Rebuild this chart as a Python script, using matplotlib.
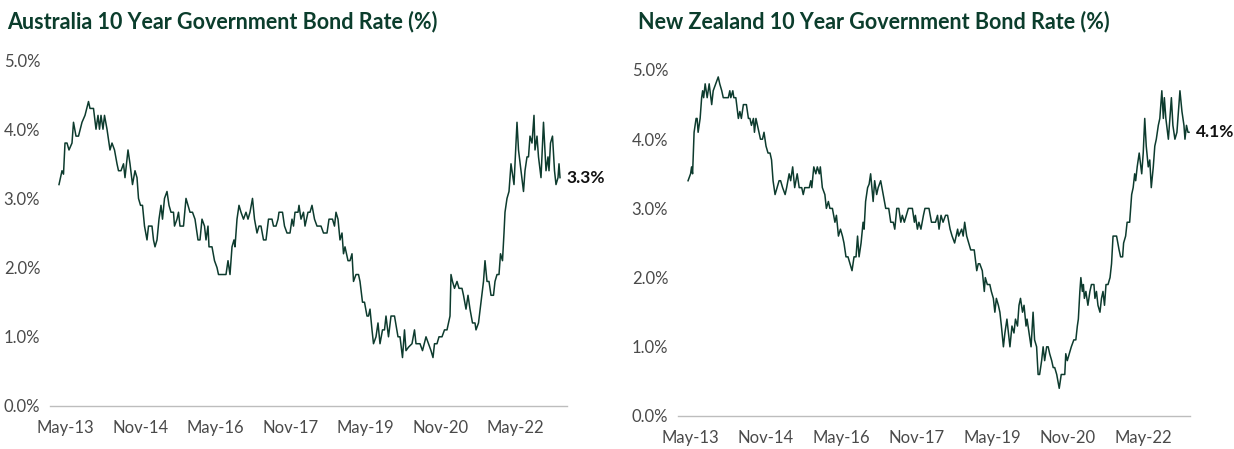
import matplotlib
matplotlib.use("Agg")
import matplotlib.pyplot as plt

# time as decimal years, rates in %
au_t = [2013.21, 2013.27, 2013.30, 2013.33, 2013.37, 2013.41, 2013.47, 2013.50, 2013.55, 2013.60,
        2013.67, 2013.73, 2013.80, 2013.83, 2013.90, 2013.95, 2013.99, 2014.02, 2014.05, 2014.09,
        2014.12, 2014.17, 2014.23, 2014.27, 2014.32, 2014.37, 2014.40, 2014.45, 2014.50, 2014.53,
        2014.59, 2014.63, 2014.68, 2014.73, 2014.77, 2014.80, 2014.84, 2014.88, 2014.92, 2014.97,
        2015.00, 2015.07, 2015.10, 2015.13, 2015.17, 2015.21, 2015.25, 2015.28, 2015.32, 2015.37,
        2015.41, 2015.45, 2015.50, 2015.52, 2015.57, 2015.60, 2015.63, 2015.70, 2015.75, 2015.79,
        2015.83, 2015.88, 2015.93, 2015.99, 2016.03, 2016.07, 2016.12, 2016.15, 2016.19, 2016.21,
        2016.27, 2016.32, 2016.37, 2016.40, 2016.55, 2016.59, 2016.63, 2016.67, 2016.71, 2016.73,
        2016.77, 2016.81, 2016.85, 2016.90, 2016.95, 2016.99, 2017.03, 2017.08, 2017.12, 2017.17,
        2017.21, 2017.25, 2017.30, 2017.35, 2017.40, 2017.47, 2017.50, 2017.55, 2017.59, 2017.61,
        2017.68, 2017.72, 2017.77, 2017.83, 2017.87, 2017.90, 2017.93, 2017.99, 2018.01, 2018.05,
        2018.10, 2018.13, 2018.19, 2018.23, 2018.27, 2018.32, 2018.37, 2018.45, 2018.50, 2018.57,
        2018.61, 2018.68, 2018.72, 2018.75, 2018.79, 2018.83, 2018.87, 2018.90, 2018.93, 2018.99,
        2019.03, 2019.07, 2019.10, 2019.15, 2019.20, 2019.23, 2019.28, 2019.32, 2019.37, 2019.40,
        2019.43, 2019.47, 2019.50, 2019.55, 2019.59, 2019.63, 2019.68, 2019.72, 2019.75, 2019.80,
        2019.85, 2019.92, 2019.99, 2020.03, 2020.08, 2020.12, 2020.15, 2020.20, 2020.27, 2020.32,
        2020.35, 2020.43, 2020.48, 2020.55, 2020.60, 2020.65, 2020.69, 2020.72, 2020.77, 2020.81,
        2020.87, 2020.92, 2020.97, 2021.00, 2021.03, 2021.05, 2021.08, 2021.12, 2021.17, 2021.21,
        2021.27, 2021.30, 2021.35, 2021.39, 2021.43, 2021.48, 2021.53, 2021.55, 2021.60, 2021.65,
        2021.70, 2021.73, 2021.77, 2021.81, 2021.85, 2021.90, 2021.93, 2021.97, 2022.01, 2022.04,
        2022.08, 2022.11, 2022.13, 2022.17, 2022.21, 2022.25, 2022.31, 2022.37, 2022.40, 2022.45,
        2022.50, 2022.53, 2022.57, 2022.60, 2022.63, 2022.67, 2022.71, 2022.73, 2022.77, 2022.80,
        2022.85, 2022.90, 2022.95, 2022.99, 2023.01, 2023.04, 2023.08, 2023.12, 2023.15, 2023.19,
        2023.21, 2023.23]
au_rate = [3.2, 3.4, 3.35, 3.8, 3.8, 3.7, 3.8, 4.1, 3.9, 3.9,
           4.1, 4.2, 4.4, 4.3, 4.3, 4.0, 4.2, 4.0, 4.2, 4.0,
           4.2, 4.0, 3.7, 3.8, 3.7, 3.5, 3.4, 3.4, 3.5, 3.3,
           3.7, 3.5, 3.2, 3.4, 3.3, 3.0, 2.9, 2.9, 2.6, 2.4,
           2.6, 2.6, 2.4, 2.3, 2.4, 2.7, 2.9, 2.7, 3.0, 3.1,
           2.9, 2.8, 2.8, 2.6, 2.7, 2.8, 2.6, 2.6, 3.0, 2.9,
           2.8, 2.8, 2.7, 2.4, 2.4, 2.7, 2.6, 2.4, 2.6, 2.3,
           2.3, 2.1, 2.0, 1.9, 1.9, 2.1, 1.9, 2.3, 2.4, 2.3,
           2.7, 2.9, 2.8, 2.7, 2.8, 2.7, 2.8, 3.0, 2.7, 2.5,
           2.6, 2.6, 2.4, 2.4, 2.7, 2.7, 2.6, 2.6, 2.7, 2.8,
           2.8, 2.6, 2.5, 2.5, 2.7, 2.6, 2.8, 2.8, 2.9, 2.7,
           2.8, 2.6, 2.8, 2.8, 2.9, 2.7, 2.6, 2.6, 2.5, 2.5,
           2.7, 2.7, 2.6, 2.8, 2.7, 2.4, 2.5, 2.2, 2.3, 2.1,
           2.1, 2.2, 1.8, 1.9, 1.9, 1.8, 1.5, 1.5, 1.3, 1.3,
           1.4, 1.1, 0.9, 1.0, 1.2, 0.9, 1.1, 1.1, 1.3, 1.0,
           1.3, 1.3, 1.0, 1.0, 0.7, 1.1, 0.8, 0.85, 0.9, 1.1,
           0.9, 0.9, 0.8, 1.0, 0.9, 0.8, 0.7, 0.9, 0.9, 1.0,
           1.0, 1.1, 1.1, 1.2, 1.3, 1.9, 1.8, 1.7, 1.8, 1.7,
           1.7, 1.6, 1.4, 1.6, 1.4, 1.2, 1.2, 1.1, 1.2, 1.5,
           1.8, 2.1, 1.8, 1.8, 1.6, 1.6, 1.8, 1.9, 1.9, 2.2,
           2.1, 2.5, 2.8, 3.0, 3.1, 3.5, 3.2, 4.1, 3.7, 3.4,
           3.1, 3.4, 3.6, 3.6, 3.9, 3.8, 4.2, 3.7, 3.9, 3.6,
           3.3, 4.1, 3.4, 3.6, 3.4, 3.8, 3.9, 3.4, 3.2, 3.3,
           3.5, 3.3]

nz_t = [2013.29, 2013.34, 2013.36, 2013.38, 2013.41, 2013.45, 2013.47, 2013.49, 2013.53, 2013.56,
        2013.58, 2013.60, 2013.63, 2013.67, 2013.71, 2013.76, 2013.79, 2013.84, 2013.89, 2013.92,
        2013.96, 2013.99, 2014.09, 2014.12, 2014.14, 2014.18, 2014.20, 2014.24, 2014.29, 2014.32,
        2014.35, 2014.39, 2014.45, 2014.49, 2014.52, 2014.55, 2014.59, 2014.61, 2014.64, 2014.67,
        2014.70, 2014.73, 2014.77, 2014.80, 2014.84, 2014.88, 2014.92, 2014.95, 2014.98, 2015.02,
        2015.06, 2015.10, 2015.13, 2015.17, 2015.22, 2015.25, 2015.30, 2015.33, 2015.37, 2015.41,
        2015.46, 2015.50, 2015.55, 2015.58, 2015.61, 2015.70, 2015.73, 2015.75, 2015.79, 2015.83,
        2015.86, 2015.90, 2015.92, 2015.96, 2016.01, 2016.04, 2016.08, 2016.11, 2016.16, 2016.21,
        2016.24, 2016.28, 2016.32, 2016.36, 2016.39, 2016.43, 2016.47, 2016.51, 2016.55, 2016.59,
        2016.63, 2016.66, 2016.69, 2016.73, 2016.77, 2016.79, 2016.82, 2016.86, 2016.89, 2016.92,
        2016.97, 2017.00, 2017.04, 2017.07, 2017.12, 2017.17, 2017.22, 2017.28, 2017.32, 2017.37,
        2017.40, 2017.44, 2017.48, 2017.52, 2017.55, 2017.59, 2017.63, 2017.67, 2017.75, 2017.79,
        2017.81, 2017.85, 2017.88, 2017.92, 2017.97, 2018.00, 2018.08, 2018.13, 2018.21, 2018.25,
        2018.28, 2018.32, 2018.36, 2018.41, 2018.45, 2018.50, 2018.54, 2018.59, 2018.65, 2018.67,
        2018.73, 2018.76, 2018.79, 2018.83, 2018.87, 2018.91, 2018.98, 2019.03, 2019.06, 2019.09,
        2019.14, 2019.18, 2019.20, 2019.24, 2019.29, 2019.32, 2019.36, 2019.39, 2019.42, 2019.46,
        2019.49, 2019.52, 2019.56, 2019.59, 2019.63, 2019.66, 2019.69, 2019.73, 2019.77, 2019.80,
        2019.84, 2019.87, 2019.90, 2019.94, 2019.97, 2020.01, 2020.03, 2020.07, 2020.11, 2020.15,
        2020.18, 2020.22, 2020.25, 2020.28, 2020.32, 2020.35, 2020.38, 2020.42, 2020.45, 2020.48,
        2020.52, 2020.55, 2020.58, 2020.62, 2020.67, 2020.71, 2020.78, 2020.80, 2020.83, 2020.87,
        2020.91, 2020.96, 2021.00, 2021.03, 2021.05, 2021.08, 2021.10, 2021.13, 2021.15, 2021.17,
        2021.20, 2021.24, 2021.28, 2021.31, 2021.36, 2021.38, 2021.41, 2021.44, 2021.48, 2021.51,
        2021.54, 2021.57, 2021.60, 2021.64, 2021.68, 2021.71, 2021.74, 2021.81, 2021.86, 2021.89,
        2021.93, 2021.95, 2021.99, 2022.02, 2022.07, 2022.11, 2022.14, 2022.17, 2022.19, 2022.22,
        2022.26, 2022.31, 2022.34, 2022.37, 2022.40, 2022.44, 2022.47, 2022.50, 2022.54, 2022.57,
        2022.60, 2022.64, 2022.67, 2022.71, 2022.74, 2022.76, 2022.79, 2022.84, 2022.87, 2022.90,
        2022.93, 2022.97, 2023.01, 2023.07, 2023.11, 2023.15, 2023.17, 2023.20, 2023.23, 2023.25]
nz_rate = [3.4, 3.5, 3.6, 3.5, 4.1, 4.3, 4.3, 4.1, 4.3, 4.6,
           4.7, 4.6, 4.8, 4.6, 4.8, 4.5, 4.7, 4.8, 4.9, 4.8,
           4.7, 4.6, 4.6, 4.7, 4.6, 4.7, 4.6, 4.6, 4.3, 4.4,
           4.3, 4.5, 4.5, 4.3, 4.3, 4.2, 4.3, 4.1, 4.3, 4.2,
           4.1, 4.0, 4.0, 4.1, 3.9, 3.8, 3.8, 3.7, 3.4, 3.2,
           3.3, 3.4, 3.4, 3.3, 3.2, 3.3, 3.5, 3.4, 3.6, 3.3,
           3.5, 3.3, 3.3, 3.2, 3.3, 3.3, 3.4, 3.3, 3.6, 3.5,
           3.6, 3.5, 3.6, 3.3, 3.2, 3.0, 3.1, 3.0, 3.0, 2.8,
           2.9, 2.6, 2.7, 2.6, 2.5, 2.3, 2.3, 2.2, 2.1, 2.3,
           2.3, 2.6, 2.3, 2.5, 2.8, 2.7, 3.1, 3.3, 3.35, 3.5,
           3.1, 3.4, 3.2, 3.3, 3.4, 3.2, 3.0, 3.0, 2.8, 2.8,
           2.7, 3.0, 3.0, 2.8, 2.9, 2.8, 2.9, 3.0, 3.0, 2.8,
           2.9, 2.7, 2.8, 2.7, 2.9, 3.0, 3.0, 2.8, 2.8, 2.9,
           2.7, 2.9, 2.8, 2.9, 2.9, 2.7, 2.6, 2.5, 2.7, 2.6,
           2.7, 2.6, 2.8, 2.6, 2.5, 2.4, 2.4, 2.1, 2.2, 2.2,
           2.1, 1.8, 2.0, 1.9, 1.9, 1.8, 1.7, 1.5, 1.7, 1.6,
           1.5, 1.3, 1.0, 1.2, 1.4, 1.2, 1.0, 1.3, 1.2, 1.4,
           1.3, 1.6, 1.7, 1.5, 1.6, 1.3, 1.4, 1.2, 1.0, 1.5,
           1.1, 1.0, 0.6, 0.6, 0.8, 1.0, 0.8, 1.0, 1.0, 0.9,
           0.8, 0.7, 0.7, 0.6, 0.4, 0.6, 0.6, 0.9, 0.8, 0.9,
           1.0, 1.1, 1.1, 1.3, 1.4, 1.8, 2.0, 1.8, 1.9, 1.7,
           1.8, 1.6, 1.8, 1.9, 1.9, 1.7, 1.8, 1.6, 1.5, 1.7,
           1.8, 1.6, 1.9, 1.9, 2.0, 2.2, 2.6, 2.6, 2.4, 2.3,
           2.3, 2.5, 2.6, 2.8, 2.8, 3.2, 3.3, 3.5, 3.4, 3.6,
           3.8, 3.5, 3.8, 4.3, 3.9, 3.6, 3.7, 3.3, 3.6, 3.9,
           4.0, 4.2, 4.3, 4.7, 4.3, 4.6, 4.3, 4.0, 4.3, 4.6,
           4.2, 4.0, 4.1, 4.7, 4.4, 4.2, 4.0, 4.2, 4.1, 4.1]

tick_pos = [2013 + 4/12, 2014 + 10/12, 2016 + 4/12, 2017 + 10/12,
            2019 + 4/12, 2020 + 10/12, 2022 + 4/12]
tick_labels = ["May-13", "Nov-14", "May-16", "Nov-17", "May-19", "Nov-20", "May-22"]
y_ticks = [0, 1, 2, 3, 4, 5]

line_col = "#0d3b2e"
title_col = "#0b3d2c"
label_col = "#4a4a4a"

plt.rcParams['font.family'] = ['Lato', 'DejaVu Sans']

fig = plt.figure(figsize=(12.34, 4.49), dpi=100)
W, H = 1234, 449


def panel(rect, t, r, xlim, title, title_xy, last_label):
    l, rr, b, tp = rect
    ax = fig.add_axes([l / W, 1 - b / H, (rr - l) / W, (b - tp) / H])
    ax.plot(t, r, color=line_col, lw=1.1)
    ax.set_xlim(*xlim)
    ax.set_ylim(0, 5)
    ax.set_yticks(y_ticks)
    ax.set_yticklabels([f"{v:.1f}%" for v in y_ticks])
    ax.set_xticks(tick_pos)
    ax.set_xticklabels(tick_labels)
    for s in ["top", "right", "left"]:
        ax.spines[s].set_visible(False)
    ax.spines["bottom"].set_color("#bdbdbd")
    ax.spines["bottom"].set_linewidth(1.0)
    ax.tick_params(length=0, labelsize=12, labelcolor=label_col, pad=7)
    ax.tick_params(axis="x", pad=10)
    ax.annotate(last_label, xy=(t[-1], r[-1]), xytext=(5, 0), textcoords="offset points",
                va="center", ha="left", fontsize=12.5, fontweight="bold", color="#111111")
    fig.text(title_xy[0] / W, 1 - title_xy[1] / H, title, fontsize=15.5, fontweight="bold",
             color=title_col, ha="left", va="center")
    return ax


panel((50, 567, 406, 60), au_t, au_rate, (2013.03, 2023.37),
      "Australia 10 Year Government Bond Rate (%)", (7, 22), "3.3%")
panel((678, 1190, 416, 70), nz_t, nz_rate, (2013.09, 2023.27),
      "New Zealand 10 Year Government Bond Rate (%)", (638, 22), "4.1%")

fig.savefig("out.png", dpi=100)
